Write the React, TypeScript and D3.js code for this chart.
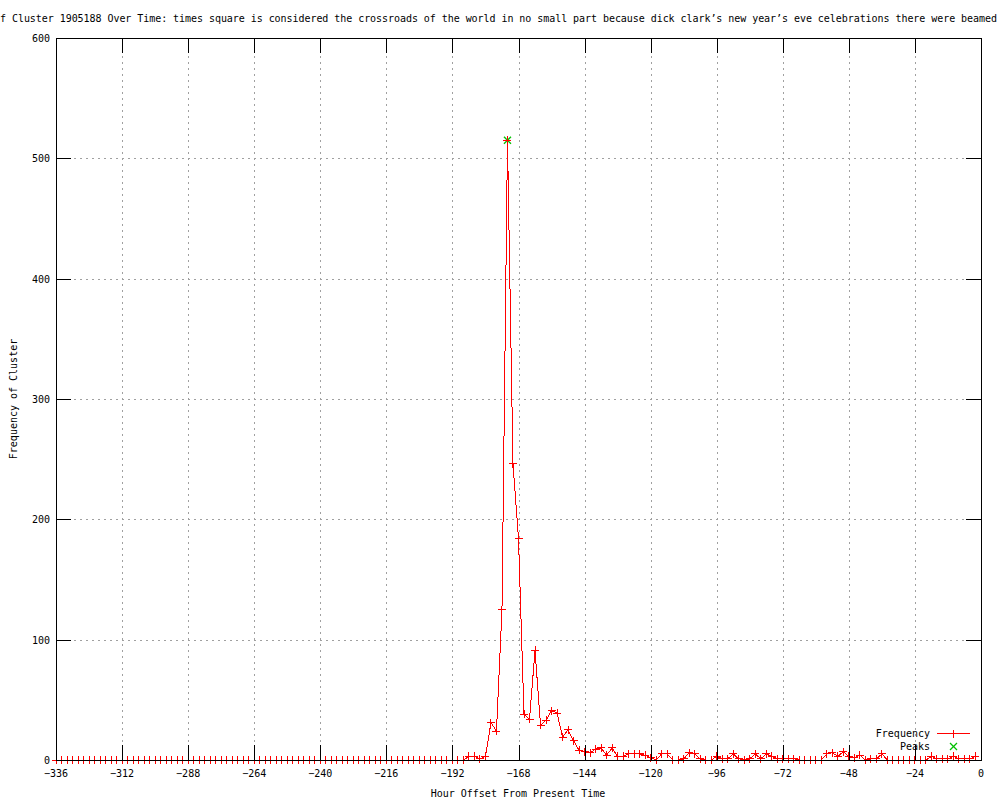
import React from "react";
import * as d3 from "d3";

// Frequency per 2-hour bin, from -336 up to -2
const startHour = -336;
const binHours = 2;
const frequency = [
  // -336 .. -188
  0, 0, 0, 0, 0, 0, 0, 0, 0, 0, 0, 0, 0, 0, 0, 0, 0, 0, 0, 0, 0, 0, 0, 0, 0,
  0, 0, 0, 0, 0, 0, 0, 0, 0, 0, 0, 0, 0, 0, 0, 0, 0, 0, 0, 0, 0, 0, 0, 0, 0,
  0, 0, 0, 0, 0, 0, 0, 0, 0, 0, 0, 0, 0, 0, 0, 0, 0, 0, 0, 0, 0, 0, 0, 0, 0,
  // -186 .. -124
  3, 3, 1, 3, 31, 24, 125, 515, 246, 184, 38, 34, 91, 29, 33, 41, 39, 19, 25,
  16, 8, 7, 6, 9, 10, 4, 10, 3, 3, 5, 5, 5,
  // -122 .. -60
  4, 2, 0, 5, 5, 0, 0, 1, 6, 5, 1, 0, 0, 3, 1, 1, 5, 1, 0, 1, 5, 1, 5, 3, 1,
  1, 1, 1, 0, 0, 0, 0,
  // -58 .. -2
  0, 5, 6, 3, 7, 3, 2, 4, 0, 1, 1, 5, 0, 0, 0, 0, 0, 0, 0, 0, 3, 1, 1, 1, 3,
  1, 1, 1, 3,
];
const peaks = [{ hour: -172, value: 515 }];

const xTicks = [-336, -312, -288, -264, -240, -216, -192, -168, -144, -120, -96, -72, -48, -24, 0];
const yTicks = [0, 100, 200, 300, 400, 500, 600];

const title =
  "f Cluster 1905188 Over Time: times square is considered the crossroads of the world in no small part because dick clark\u2019s new year\u2019s eve celebrations there were beamed";

const font = "'DejaVu Sans Mono', 'Liberation Mono', monospace";

export default function App() {
  const width = 1000,
    height = 800;
  const left = 56,
    right = 981,
    top = 38,
    bottom = 760;

  const x = d3.scaleLinear().domain([-336, 0]).range([left, right]);
  const y = d3.scaleLinear().domain([0, 600]).range([bottom, top]);

  const points = frequency.map((v, i) => ({ hour: startHour + i * binHours, value: v }));
  const line = d3
    .line<{ hour: number; value: number }>()
    .x((d) => x(d.hour))
    .y((d) => y(d.value));

  const tickLen = 15;
  const red = "#ff0000";
  const green = "#00c000";

  const cross = (cx: number, cy: number, key: string | number) => (
    <g key={key} stroke={red} strokeWidth={1}>
      <line x1={cx - 4} x2={cx + 4} y1={cy} y2={cy} />
      <line x1={cx} x2={cx} y1={cy - 4} y2={cy + 4} />
    </g>
  );
  const xMark = (cx: number, cy: number, key: string | number) => (
    <g key={key} stroke={green} strokeWidth={1.3} shapeRendering="auto">
      <line x1={cx - 3.5} x2={cx + 3.5} y1={cy - 3.5} y2={cy + 3.5} />
      <line x1={cx - 3.5} x2={cx + 3.5} y1={cy + 3.5} y2={cy - 3.5} />
    </g>
  );

  return (
    <svg
      width={width}
      height={height}
      style={{ position: "absolute", left: 0, top: 0, background: "#fff" }}
      fontFamily={font}
      fontSize={10}
      shapeRendering="crispEdges"
    >
      <rect width={width} height={height} fill="#fff" />

      {/* grid */}
      <g stroke="#a0a0a0" strokeDasharray="2,4" strokeWidth={1}>
        {xTicks.slice(1, -1).map((t) => (
          <line key={"gx" + t} x1={x(t) + 0.5} x2={x(t) + 0.5} y1={top} y2={bottom} />
        ))}
        {yTicks.slice(1, -1).map((t) => (
          <line key={"gy" + t} x1={left} x2={right} y1={y(t) + 0.5} y2={y(t) + 0.5} />
        ))}
      </g>

      {/* data */}
      {peaks.map((d, i) => xMark(x(d.hour), y(d.value), "pk" + i))}
      <path d={line(points) || ""} fill="none" stroke={red} strokeWidth={1} />
      {points.map((d, i) => cross(x(d.hour), y(d.value), i))}

      {/* border and ticks */}
      <rect
        x={left + 0.5}
        y={top + 0.5}
        width={right - left}
        height={bottom - top}
        fill="none"
        stroke="#000"
      />
      <g stroke="#000">
        {xTicks.map((t) => (
          <g key={"tx" + t}>
            <line x1={x(t) + 0.5} x2={x(t) + 0.5} y1={bottom} y2={bottom - tickLen} />
            <line x1={x(t) + 0.5} x2={x(t) + 0.5} y1={top} y2={top + tickLen} />
          </g>
        ))}
        {yTicks.map((t) => (
          <g key={"ty" + t}>
            <line x1={left} x2={left + tickLen} y1={y(t) + 0.5} y2={y(t) + 0.5} />
            <line x1={right} x2={right - tickLen} y1={y(t) + 0.5} y2={y(t) + 0.5} />
          </g>
        ))}
      </g>

      {/* tick labels */}
      {xTicks.map((t) => (
        <text key={"lx" + t} x={x(t)} y={bottom + 17} textAnchor="middle">
          {t === 0 ? "0" : "\u2212" + Math.abs(t)}
        </text>
      ))}
      {yTicks.map((t) => (
        <text key={"ly" + t} x={left - 6} y={y(t) + 4} textAnchor="end">
          {t}
        </text>
      ))}

      {/* titles */}
      <text x={0} y={22} textLength={997} lengthAdjust="spacing">
        {title}
      </text>
      <text x={518} y={797} textAnchor="middle">
        Hour Offset From Present Time
      </text>
      <text transform={`translate(17,${(top + bottom) / 2}) rotate(-90)`} textAnchor="middle">
        Frequency of Cluster
      </text>

      {/* legend */}
      <text x={930} y={737} textAnchor="end">
        Frequency
      </text>
      <rect x={937} y={733} width={33} height={1.2} fill={red} />
      {cross(953.5, 733.5, "lg1")}
      <text x={930} y={750} textAnchor="end">
        Peaks
      </text>
      {xMark(953.5, 746.5, "lg2")}
    </svg>
  );
}
